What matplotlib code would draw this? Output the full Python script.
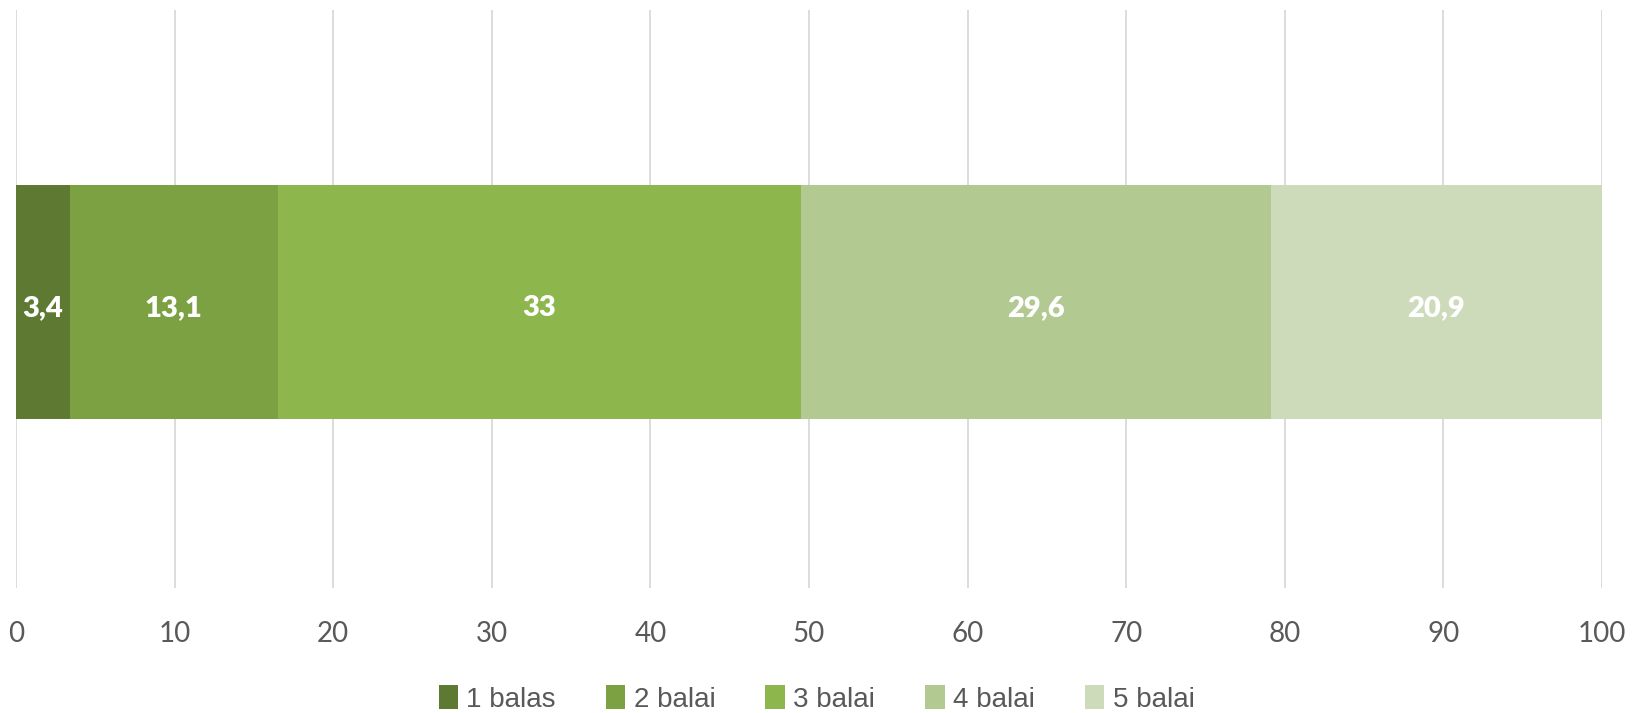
import matplotlib
matplotlib.use("Agg")
import matplotlib.pyplot as plt

# data
labels = ["1 balas", "2 balai", "3 balai", "4 balai", "5 balai"]
values = [3.4, 13.1, 33, 29.6, 20.9]
value_text = ["3,4", "13,1", "33", "29,6", "20,9"]
colors = ["#5E7A32", "#7CA143", "#8DB64C", "#B2CA92", "#CDDBBB"]
ticks = [0, 10, 20, 30, 40, 50, 60, 70, 80, 90, 100]

fig = plt.figure(figsize=(16.33, 7.13), dpi=100)
ax = fig.add_axes([16 / 1633, 1 - 588 / 713, (1602 - 16) / 1633, (588 - 10) / 713])

left = 0
for lab, v, t, c in zip(labels, values, value_text, colors):
    ax.barh(-0.005, v, left=left, height=0.405, color=c, label=lab)
    ax.text(left + v / 2, -0.015, t, ha="center", va="center", color="white",
            fontsize=21, fontweight="heavy", family="Lato")
    left += v

ax.set_xlim(0, 100)
ax.set_ylim(-0.5, 0.5)
ax.set_xticks(ticks)
ax.set_xticklabels([str(t) for t in ticks], family="Lato", fontsize=20, color="#595959")
ax.set_yticks([])
ax.tick_params(axis="x", length=0, pad=24)
ax.grid(axis="x", color="#D9D9D9", linewidth=1.3)
ax.set_axisbelow(True)
for s in ax.spines.values():
    s.set_visible(False)

leg = fig.legend(loc="center", bbox_to_anchor=(0.5, 1 - 699 / 713), ncol=5, frameon=False,
                 prop={"family": "Liberation Sans", "size": 20}, handlelength=0.7,
                 handleheight=0.9, handletextpad=0.3, columnspacing=1.8)
for t in leg.get_texts():
    t.set_color("#595959")

fig.savefig("out.png", dpi=100)
